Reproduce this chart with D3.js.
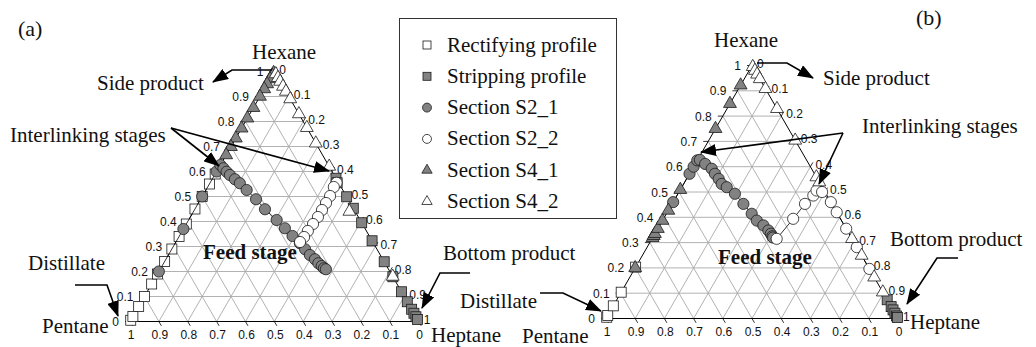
<!DOCTYPE html>
<html><head><meta charset="utf-8">
<script src="https://cdn.jsdelivr.net/npm/d3@7"></script>
<style>body{margin:0;background:#fff}svg{display:block}</style>
</head><body><svg id="c" width="1036" height="347"></svg>
<script>
// ---------- DATA: each point = [hexane fraction, heptane fraction] (pentane = 1 - both) ----------
const rectA  = [[0.005,0],[0.02,0],[0.06,0],[0.10,0],[0.15,0],[0.19,0],[0.24,0],[0.29,0],[0.34,0],[0.39,0],[0.45,0],[0.50,0],[0.55,0],[0.59,0]];
const stripA = [[0.573,0.427],[0.555,0.44],[0.499,0.501],[0.453,0.547],[0.395,0.605],[0.323,0.677],[0.239,0.761],[0.179,0.821],[0.119,0.881],[0.079,0.921],[0.049,0.951],[0.033,0.967],[0.019,0.981],[0.008,0.992]];
const s21A   = [[0.20,0],[0.37,0],[0.50,0],[0.60,0],[0.626,0],[0.613,0.017],[0.599,0.035],[0.586,0.053],[0.569,0.079],[0.553,0.104],[0.526,0.141],[0.489,0.192],[0.449,0.243],[0.406,0.305],[0.373,0.350],[0.342,0.392],[0.313,0.432],[0.289,0.462],[0.266,0.490],[0.249,0.516],[0.233,0.536],[0.222,0.553],[0.213,0.565],[0.209,0.574]];
const s22A   = [[0.555,0.438],[0.538,0.437],[0.502,0.442],[0.474,0.442],[0.446,0.442],[0.418,0.442],[0.39,0.439],[0.362,0.435],[0.338,0.434],[0.318,0.430]];
const s41A   = [[0.995,0],[0.985,0],[0.97,0],[0.95,0],[0.93,0],[0.90,0],[0.855,0],[0.813,0],[0.773,0],[0.733,0],[0.699,0],[0.666,0]];
const s42A   = [[0.99,0.01],[0.975,0.025],[0.96,0.04],[0.94,0.06],[0.92,0.08],[0.89,0.11],[0.83,0.17],[0.775,0.225],[0.713,0.287],[0.62,0.38],[0.44,0.54],[0.18,0.82]];

const rectB  = [[0.005,0],[0.012,0],[0.05,0],[0.104,0],[0.203,0]];
const stripB = [[0.074,0.926],[0.047,0.953],[0.034,0.966],[0.021,0.979],[0.01,0.99],[0.004,0.996]];
const s21B   = [[0.46,0],[0.572,0],[0.60,0],[0.625,0],[0.627,0.008],[0.611,0.034],[0.592,0.066],[0.572,0.087],[0.552,0.11],[0.532,0.130],[0.519,0.154],[0.493,0.195],[0.453,0.244],[0.414,0.292],[0.387,0.323],[0.368,0.355],[0.348,0.382],[0.335,0.397],[0.325,0.407],[0.32,0.412]];
const s22B   = [[0.315,0.427],[0.394,0.444],[0.453,0.455],[0.486,0.467],[0.506,0.468],[0.5,0.49],[0.46,0.54],[0.42,0.58],[0.355,0.645],[0.282,0.718],[0.196,0.804]];
const s41B   = [[0.2,0],[0.319,0],[0.327,0],[0.335,0],[0.355,0],[0.387,0],[0.427,0],[0.509,0],[0.75,0],[0.849,0],[0.922,0]];
const s42B   = [[0.995,0.005],[0.98,0.02],[0.965,0.035],[0.947,0.053],[0.908,0.092],[0.829,0.171],[0.704,0.296],[0.559,0.441],[0.539,0.461],[0.315,0.685],[0.249,0.751],[0.163,0.837],[0.104,0.896]];

const tickValues = [0,0.1,0.2,0.3,0.4,0.5,0.6,0.7,0.8,0.9,1];
const tickLabels = ["0","0.1","0.2","0.3","0.4","0.5","0.6","0.7","0.8","0.9","1"];
const gridValues = [0.1,0.2,0.3,0.4,0.5,0.6,0.7,0.8,0.9];
const seriesNames = ["Rectifying profile","Stripping profile","Section S2_1","Section S2_2","Section S4_1","Section S4_2"];
const components = ["Pentane","Hexane","Heptane"];

// ---------- STYLE ----------
const GREY = "#828282", STROKE = "#1a1a1a";
const seriesStyle = [
  {shape:"square",  fill:"#fff"},
  {shape:"square",  fill:GREY},
  {shape:"circle",  fill:GREY, line:true},
  {shape:"circle",  fill:"#fff", line:true},
  {shape:"triangle",fill:GREY},
  {shape:"triangle",fill:"#fff"}
];
const serif = "'Liberation Serif','Times New Roman',serif";
const sans  = "'Liberation Sans',Arial,sans-serif";

const svg = d3.select("#c");
const defs = svg.append("defs");
defs.append("marker").attr("id","ah").attr("markerUnits","userSpaceOnUse")
  .attr("markerWidth",16).attr("markerHeight",12).attr("refX",15).attr("refY",6)
  .attr("orient","auto").append("path").attr("d","M0,0 L16,6 L0,12 Z").attr("fill","#000");

function drawMarker(g, shape, x, y, fill, s) {
  s = s || 1;
  if (shape === "square") {
    g.append("rect").attr("x",x-5*s).attr("y",y-5*s).attr("width",10*s).attr("height",10*s)
      .attr("fill",fill).attr("stroke",STROKE).attr("stroke-width",0.8);
  } else if (shape === "circle") {
    g.append("circle").attr("cx",x).attr("cy",y).attr("r",5.6*s)
      .attr("fill",fill).attr("stroke",STROKE).attr("stroke-width",0.8);
  } else {
    g.append("path").attr("d",d3.symbol().type(d3.symbolTriangle).size(72*s*s)())
      .attr("transform",`translate(${x},${y})`)
      .attr("fill",fill).attr("stroke",STROKE).attr("stroke-width",0.8);
  }
}

function panel(cfg, series) {
  const g = svg.append("g");
  const xs = d3.scaleLinear().domain([0,1]).range([cfg.x0, cfg.x1]);
  const ys = d3.scaleLinear().domain([0,1]).range([cfg.yBase, cfg.yTop]);
  const pt = (h,k) => [xs(k + h/2), ys(h)];
  const line = d3.line().x(d => pt(d[0],d[1])[0]).y(d => pt(d[0],d[1])[1]);

  const grid = g.append("g").attr("stroke","#a9a9a9").attr("stroke-width",0.9).attr("fill","none");
  gridValues.forEach(v => {
    grid.append("path").attr("d", line([[v,0],[v,1-v]]));
    grid.append("path").attr("d", line([[0,v],[1-v,v]]));
    grid.append("path").attr("d", line([[0,1-v],[1-v,0]]));
  });
  g.append("path").attr("d", line([[0,0],[1,0],[0,1],[0,0]]))
    .attr("fill","none").attr("stroke","#000").attr("stroke-width",1);

  const tk = g.append("g").attr("stroke","#000").attr("stroke-width",0.8);
  const tl = g.append("g").attr("font-family",sans).attr("font-size",12).attr("fill","#111");
  tickValues.forEach((v,i) => {
    let [x,y] = pt(v,0);
    tk.append("line").attr("x1",x).attr("y1",y).attr("x2",x-5).attr("y2",y);
    tl.append("text").attr("x",x-11).attr("y",y+4.5).attr("text-anchor","end").text(tickLabels[i]);
    [x,y] = pt(1-v,v);
    tk.append("line").attr("x1",x).attr("y1",y).attr("x2",x+2.5).attr("y2",y-4.3);
    tl.append("text").attr("x",x+5).attr("y",y+2).attr("text-anchor","start").text(tickLabels[i]);
    [x,y] = pt(0,1-v);
    tk.append("line").attr("x1",x).attr("y1",y).attr("x2",x+2.5).attr("y2",y+4.3);
    tl.append("text").attr("x",x+1).attr("y",y+17.5).attr("text-anchor","middle").text(tickLabels[i]);
  });

  series.forEach((data,si) => {
    const st = seriesStyle[si];
    const sg = g.append("g");
    if (st.line) sg.append("path").attr("d",line(data)).attr("fill","none").attr("stroke","#000").attr("stroke-width",0.8);
    data.forEach(d => { const [x,y] = pt(d[0],d[1]); drawMarker(sg, st.shape, x, y, st.fill); });
  });
  return g;
}

panel({x0:130, x1:418.7, yBase:321.5, yTop:71.5}, [rectA, stripA, s21A, s22A, s41A, s42A]);
panel({x0:606, x1:898, yBase:318.5, yTop:65.5}, [rectB, stripB, s21B, s22B, s41B, s42B]);

// ---------- LEGEND ----------
const lg = svg.append("g");
lg.append("rect").attr("x",399.5).attr("y",18.5).attr("width",217).attr("height",200)
  .attr("fill","#fff").attr("stroke","#333").attr("stroke-width",1);
seriesNames.forEach((n,i) => {
  const cy = 45 + i*31.3;
  drawMarker(lg, seriesStyle[i].shape, 427, cy, seriesStyle[i].fill, 0.8);
  lg.append("text").attr("x",447).attr("y",cy+6.5).attr("font-family",serif).attr("font-size",21).attr("fill","#111").text(n);
});

// ---------- ANNOTATIONS ----------
const texts = [
  {t:"(a)", x:18, y:36, s:22},
  {t:components[1], x:252, y:59},
  {t:"Side product", x:97, y:90},
  {t:"Interlinking stages", x:10, y:142},
  {t:"Feed stage", x:203, y:259, b:true},
  {t:"Distillate", x:28, y:270},
  {t:components[0], x:42, y:333},
  {t:components[2], x:431, y:342},
  {t:"Bottom product", x:443, y:260},
  {t:"(b)", x:916, y:25, s:22},
  {t:components[1], x:714, y:47},
  {t:"Side product", x:823, y:85},
  {t:"Interlinking stages", x:862, y:133},
  {t:"Feed stage", x:718, y:264, b:true},
  {t:"Distillate", x:460, y:308},
  {t:components[0], x:522, y:343},
  {t:components[2], x:910, y:329},
  {t:"Bottom product", x:890, y:246}
];
const arrows = [
  [[272,70],[232,70],[213,82]],
  [[171,128],[219,166]],
  [[171,128],[329,171]],
  [[75,285],[107,285],[118,316]],
  [[470,273],[440,273],[422,308]],
  [[757,63],[787,63],[813,78]],
  [[843,133],[701,152]],
  [[843,133],[819,184]],
  [[540,293],[563,293],[601,311]],
  [[958,258],[937,258],[907,304]]
];
const ag = svg.append("g");
arrows.forEach(a => ag.append("path").attr("d", d3.line()(a)).attr("fill","none")
  .attr("stroke","#000").attr("stroke-width",1.6).attr("marker-end","url(#ah)"));
const tg = svg.append("g").attr("font-family",serif).attr("fill","#111");
texts.forEach(d => tg.append("text").attr("x",d.x).attr("y",d.y).attr("font-size",d.s||21)
  .attr("font-weight",d.b?"bold":"normal").text(d.t));
</script></body></html>
